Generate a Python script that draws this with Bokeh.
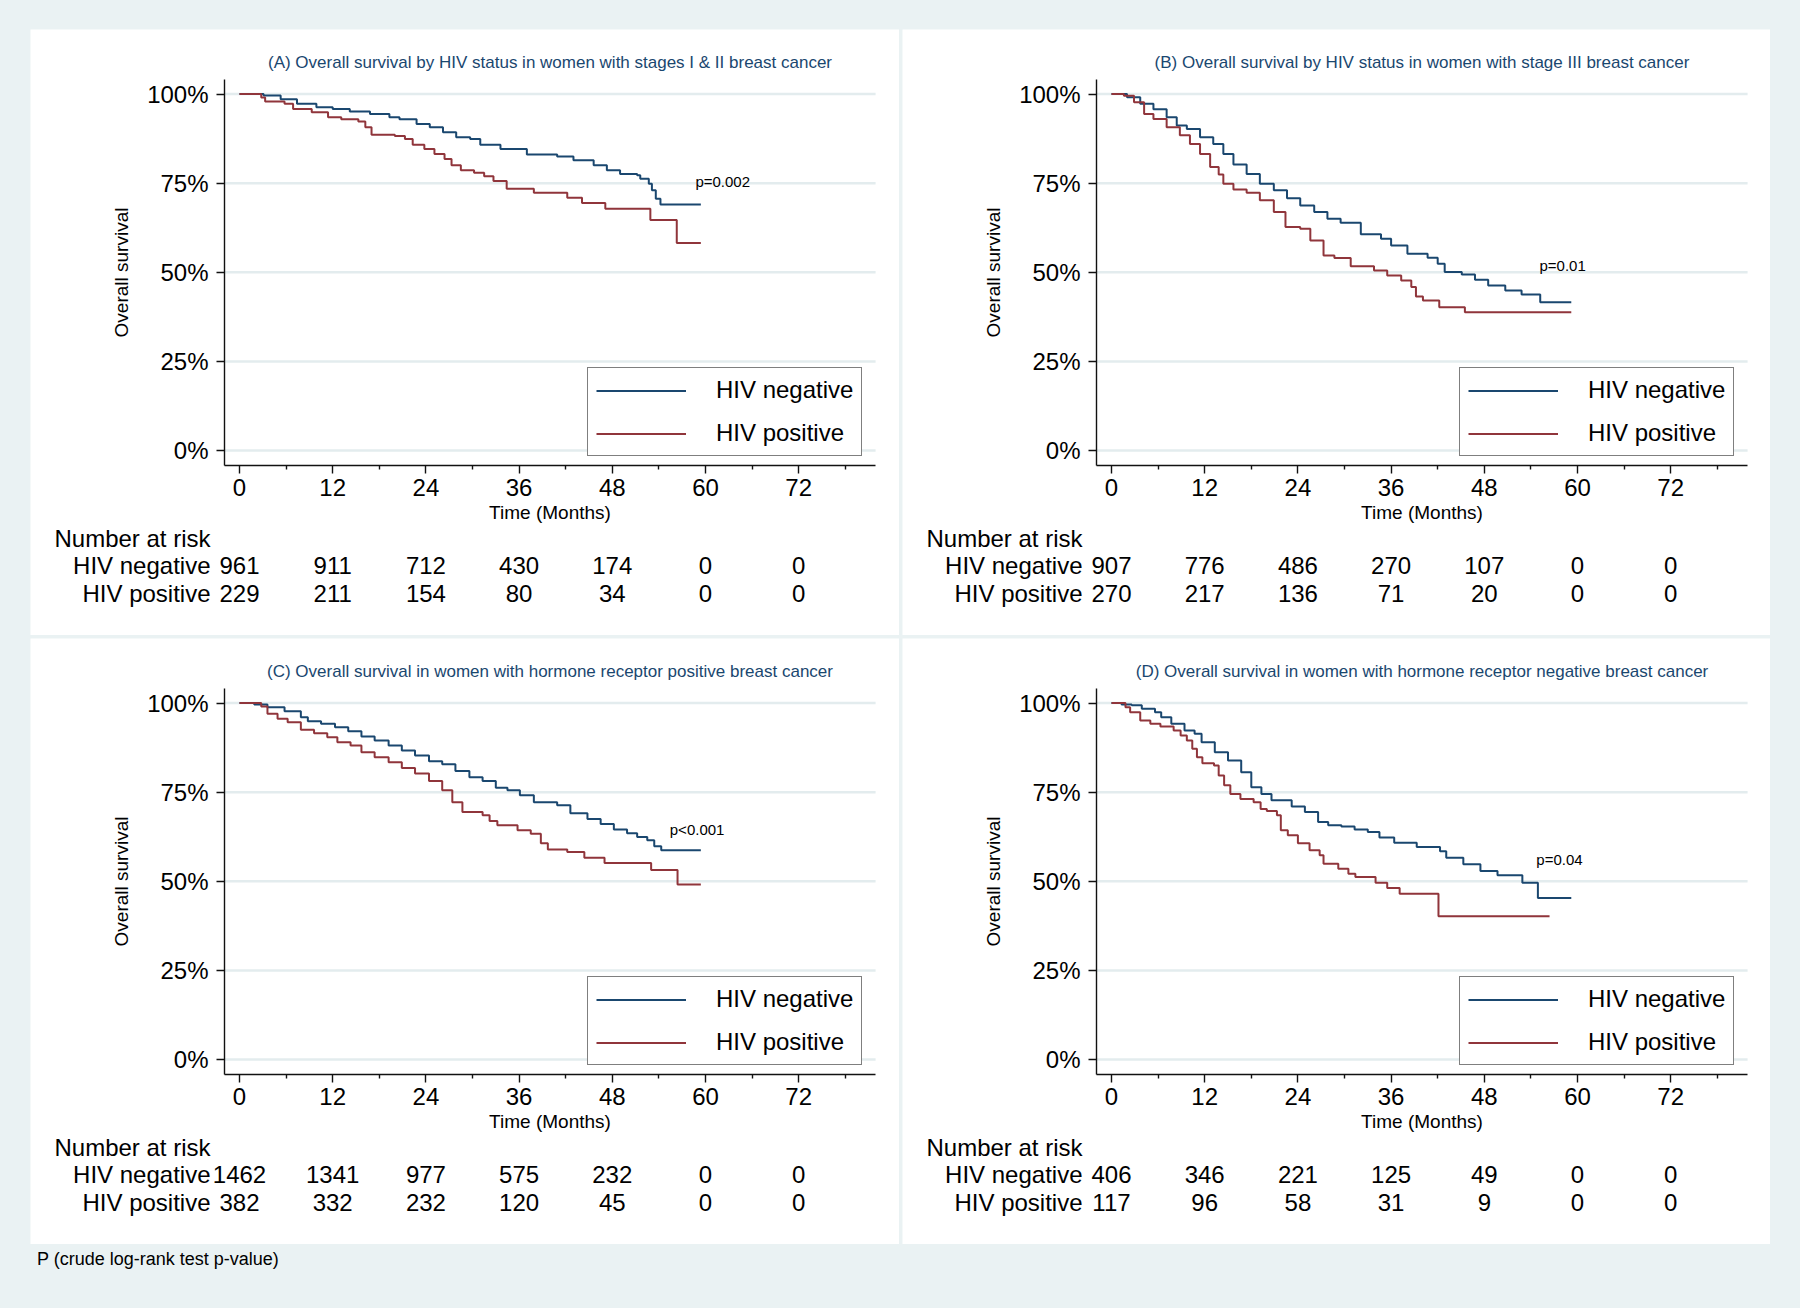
from bokeh.plotting import figure
from bokeh.models import (Range1d, FixedTicker, Label, LabelSet, ColumnDataSource,
                          Legend, LegendItem, Spacer, Div)
from bokeh.layouts import row, column
from bokeh.core.properties import value
from bokeh.embed import file_html
from bokeh.resources import INLINE

# ---------------- data ----------------
x_ticks = [0, 12, 24, 36, 48, 60, 72]
x_minor_ticks = [6, 18, 30, 42, 54, 66, 78]
y_ticks = [0, 25, 50, 75, 100]
y_tick_labels = ["0%", "25%", "50%", "75%", "100%"]
risk_times = [0, 12, 24, 36, 48, 60, 72]
group_names = ["HIV negative", "HIV positive"]
risk_header = "Number at risk"

titles = [
    "(A) Overall survival by HIV status in women with stages I & II breast cancer",
    "(B) Overall survival by HIV status in women with stage III breast cancer",
    "(C) Overall survival in women with hormone receptor positive breast cancer",
    "(D) Overall survival in women with hormone receptor negative breast cancer",
]
p_texts = ["p=0.002", "p=0.01", "p<0.001", "p=0.04"]

# Panel A
A_neg_t = [0, 3.1, 5.3, 7.4, 9.9, 12.0, 14.2, 16.8, 19.3, 20.6, 22.8, 24.5, 26.2, 27.9, 29.7, 31.0,
           33.6, 37.0, 40.9, 43.0, 45.6, 47.3, 49.0, 51.2, 51.6, 52.7, 53.1, 53.6, 54.2, 59.4]
A_neg_s = [100, 99.6, 98.5, 97.3, 96.3, 95.8, 95.1, 94.4, 93.5, 92.9, 91.6, 90.7, 89.3, 87.9, 87.4, 85.8,
           84.6, 83.0, 82.5, 81.4, 80.0, 78.6, 77.6, 77.2, 76.2, 74.8, 73.0, 70.6, 69.0, 69.0]
A_pos_t = [0, 2.8, 3.3, 5.8, 6.9, 9.3, 11.4, 13.1, 15.3, 16.2, 17.0, 20.0, 21.3, 22.3, 23.8, 25.1,
           26.4, 27.3, 28.5, 30.2, 31.5, 32.7, 34.4, 37.9, 42.2, 44.1, 47.1, 52.9, 56.3, 59.4]
A_pos_s = [100, 99.0, 97.9, 97.3, 95.8, 94.9, 93.5, 92.9, 92.3, 90.7, 88.6, 88.2, 87.4, 85.8, 84.6, 83.2,
           81.8, 80.0, 78.6, 77.9, 76.9, 75.6, 73.4, 72.3, 70.9, 69.4, 67.8, 64.7, 58.2, 58.2]
A_risk_neg = [961, 911, 712, 430, 174, 0, 0]
A_risk_pos = [229, 211, 154, 80, 34, 0, 0]

# Panel B
B_neg_t = [0, 2.0, 3.7, 5.4, 7.1, 8.4, 9.7, 11.4, 13.1, 14.4, 15.7, 17.4, 19.1, 20.9, 22.6, 24.3,
           26.1, 27.8, 29.5, 32.1, 34.7, 36.0, 38.1, 40.7, 42.0, 42.9, 45.1, 46.8, 48.5, 50.7,
           52.8, 55.2, 59.2]
B_neg_s = [100, 99.1, 97.3, 95.7, 93.5, 91.2, 90.2, 87.9, 86.0, 83.2, 80.2, 77.6, 74.8, 73.0, 70.8, 68.7,
           66.9, 65.0, 63.9, 60.7, 59.4, 57.5, 55.2, 54.1, 52.4, 50.1, 49.4, 47.9, 46.3, 44.9,
           43.8, 41.6, 41.6]
B_pos_t = [0, 1.6, 2.9, 4.2, 5.4, 7.1, 8.8, 10.1, 11.4, 12.7, 13.8, 14.4, 15.7, 17.4, 19.1, 20.9,
           22.4, 24.3, 25.6, 27.3, 28.7, 30.8, 33.8, 35.5, 37.3, 38.6, 39.2, 40.1, 42.2, 45.5, 59.2]
B_pos_s = [100, 99.5, 97.7, 94.4, 93.0, 90.7, 88.4, 86.0, 83.2, 79.5, 77.4, 74.8, 73.2, 72.3, 70.2, 66.9,
           62.7, 62.2, 58.9, 54.7, 54.0, 51.7, 50.5, 49.1, 47.7, 45.9, 43.2, 42.1, 40.2, 38.8, 38.8]
B_risk_neg = [907, 776, 486, 270, 107, 0, 0]
B_risk_pos = [270, 217, 136, 71, 20, 0, 0]

# Panel C
C_neg_t = [0, 1.9, 3.6, 5.8, 7.9, 8.8, 10.5, 12.3, 14.0, 15.7, 17.4, 19.2, 20.9, 22.6, 24.4, 26.1,
           27.8, 29.6, 31.3, 33.0, 34.5, 36.1, 37.9, 40.9, 42.6, 44.8, 46.5, 48.2, 49.9, 51.2,
           52.5, 53.4, 54.3, 59.4]
C_neg_s = [100, 99.6, 98.8, 97.7, 96.0, 94.9, 94.2, 93.2, 92.1, 90.6, 89.5, 88.1, 86.7, 85.3, 83.7, 82.8,
           80.9, 79.2, 78.1, 76.2, 75.5, 74.1, 72.2, 71.3, 69.1, 67.5, 66.1, 64.5, 63.5, 62.4,
           61.5, 59.8, 58.7, 58.7]
C_pos_t = [0, 2.8, 3.6, 4.9, 6.2, 7.9, 9.6, 11.3, 12.6, 14.3, 15.7, 17.4, 19.2, 20.9, 22.6, 24.4,
           26.1, 27.4, 28.7, 31.3, 32.2, 33.2, 35.8, 37.5, 38.8, 39.7, 42.2, 44.4, 47.0, 53.0, 56.4, 59.4]
C_pos_s = [100, 99.0, 97.0, 95.6, 94.6, 92.5, 91.5, 90.4, 89.0, 88.1, 86.2, 84.8, 83.4, 81.8, 80.2, 78.1,
           75.5, 72.2, 69.4, 68.5, 66.9, 65.7, 64.3, 63.3, 60.7, 58.9, 58.2, 56.6, 55.1, 53.2, 49.1, 49.1]
C_risk_neg = [1462, 1341, 977, 575, 232, 0, 0]
C_risk_pos = [382, 332, 232, 120, 45, 0, 0]

# Panel D
D_neg_t = [0, 1.3, 2.6, 3.9, 5.6, 6.4, 7.7, 9.4, 10.7, 11.6, 13.3, 15.0, 16.7, 18.0, 19.3, 20.6,
           23.2, 24.9, 26.6, 27.9, 29.6, 31.3, 33.0, 34.5, 36.4, 39.3, 42.3, 43.1, 45.3, 47.5,
           49.7, 52.9, 54.9, 59.2]
D_neg_s = [100, 99.6, 99.4, 98.4, 97.4, 96.0, 94.2, 92.3, 91.4, 89.0, 86.2, 83.9, 80.6, 76.4, 74.5, 72.7,
           71.0, 69.4, 66.6, 65.7, 65.4, 64.5, 63.8, 62.3, 60.8, 59.6, 58.4, 56.6, 54.8, 52.9,
           51.7, 49.6, 45.3, 45.3]
D_pos_t = [0, 1.8, 2.4, 3.7, 5.0, 6.3, 8.0, 8.9, 9.7, 10.4, 11.0, 11.7, 13.2, 13.8, 14.5, 15.3,
           16.6, 18.3, 19.2, 20.0, 21.3, 21.8, 22.7, 24.0, 25.5, 26.8, 27.3, 29.2, 30.5, 31.4,
           34.0, 35.5, 37.1, 42.1, 56.4]
D_pos_s = [100, 98.8, 97.4, 95.1, 94.2, 93.4, 92.3, 90.9, 89.5, 87.2, 84.8, 83.1, 82.5, 79.7, 76.9, 74.5,
           73.1, 72.2, 70.3, 69.7, 68.5, 64.3, 62.9, 60.7, 58.7, 57.3, 54.9, 53.5, 52.1, 51.2,
           49.6, 48.1, 46.5, 40.2, 40.2]
D_risk_neg = [406, 346, 221, 125, 49, 0, 0]
D_risk_pos = [117, 96, 58, 31, 9, 0, 0]

# ---------------- style / geometry ----------------
BG = "#eaf2f3"
GRID = "#e3ecee"
NAVY = "#1a476f"
MAROON = "#90353b"
FONT = "Liberation Sans"
PANEL_H = 606
PX_PER_MONTH = 7.7667
PX_PER_PCT = 3.566
ZERO_X_PX = 209.0        # panel x of t = 0
HUNDRED_Y_PX = 64.5      # panel y (from top) of 100 %
PLOT_X = (-1.93, 81.9)   # extent of the survival plot area (months)
PLOT_Y = (-4.21, 104.07) # extent of the survival plot area (%)
RISK_X_LABEL = 180       # right edge of the risk-table row names (px)
RISK_ROWS = [97.4, 70.5, 42.5]   # px above panel bottom: header / row 1 / row 2


def make_panel(width, idx, neg_t, neg_s, pos_t, pos_s, risk_neg, risk_pos, ppos):
    x_rng = Range1d(-ZERO_X_PX / PX_PER_MONTH, (width - ZERO_X_PX) / PX_PER_MONTH)
    y_rng = Range1d(100 - (PANEL_H - HUNDRED_Y_PX) / PX_PER_PCT, 100 + HUNDRED_Y_PX / PX_PER_PCT)
    p = figure(width=width, height=PANEL_H, x_range=x_rng, y_range=y_rng,
               output_backend="svg", toolbar_location=None,
               min_border=0, min_border_left=0, min_border_right=0,
               min_border_top=0, min_border_bottom=0,
               outline_line_color=None, background_fill_color="white",
               border_fill_color="white")
    p.grid.visible = False

    # horizontal grid lines across the plot area only
    p.segment(x0=[PLOT_X[0]] * len(y_ticks), x1=[PLOT_X[1]] * len(y_ticks),
              y0=y_ticks, y1=y_ticks, line_color=GRID, line_width=2.5)

    for ax in (p.xaxis[0], p.yaxis[0]):
        ax.axis_line_color = "#111111"
        ax.axis_line_width = 1.4
        ax.major_tick_line_color = "#111111"
        ax.major_tick_line_width = 1.4
        ax.minor_tick_line_color = "#111111"
        ax.minor_tick_line_width = 1.4
        ax.major_tick_in = 0
        ax.major_tick_out = 8
        ax.major_label_text_font = FONT
        ax.major_label_text_font_size = "24px"
        ax.major_label_text_color = "black"
        ax.axis_label_text_font = FONT
        ax.axis_label_text_font_style = "normal"
        ax.axis_label_text_color = "black"

    xa = p.xaxis[0]
    xa.fixed_location = PLOT_Y[0]
    xa.bounds = PLOT_X
    xa.ticker = FixedTicker(ticks=x_ticks, minor_ticks=x_minor_ticks)
    xa.minor_tick_in = 0
    xa.minor_tick_out = 4
    xa.major_label_standoff = 5
    xa.axis_label = "Time (Months)"
    xa.axis_label_text_font_size = "19px"
    xa.axis_label_standoff = 3

    ya = p.yaxis[0]
    ya.fixed_location = PLOT_X[0]
    ya.bounds = PLOT_Y
    ya.ticker = FixedTicker(ticks=y_ticks)
    ya.major_label_overrides = dict(zip(y_ticks, y_tick_labels))
    ya.minor_tick_out = 0
    ya.major_label_standoff = 8
    ya.axis_label = "Overall survival"
    ya.axis_label_text_font_size = "19px"
    ya.axis_label_standoff = 12

    r_neg = p.step(neg_t, neg_s, mode="after", line_color=NAVY, line_width=2)
    r_pos = p.step(pos_t, pos_s, mode="after", line_color=MAROON, line_width=2)

    leg = Legend(items=[LegendItem(label=group_names[0], renderers=[r_neg]),
                        LegendItem(label=group_names[1], renderers=[r_pos])],
                 location=(557, 179), border_line_color="black", border_line_width=1.5,
                 background_fill_color="white", background_fill_alpha=1.0,
                 glyph_width=90, glyph_height=27, label_height=27, label_standoff=30,
                 padding=8, spacing=15, margin=0,
                 label_text_font=FONT, label_text_font_size="24px", label_text_color="black")
    p.add_layout(leg)

    # title centred over the plot area
    p.add_layout(Label(x=194 + 651 / 2, y=PANEL_H - 33.4, x_units="screen", y_units="screen",
                       text=titles[idx], text_align="center", text_baseline="middle",
                       text_font=FONT, text_font_size="17px", text_color=NAVY))
    # log-rank p value
    p.add_layout(Label(x=ppos[0], y=ppos[1], text=p_texts[idx], text_align="left",
                       text_baseline="middle", text_font=FONT, text_font_size="15px",
                       text_color="black"))

    # number-at-risk table
    for txt, yy in zip([risk_header] + group_names, RISK_ROWS):
        p.add_layout(Label(x=RISK_X_LABEL, y=yy, x_units="screen", y_units="screen",
                           text=txt, text_align="right", text_baseline="middle",
                           text_font=FONT, text_font_size="24px", text_color="black"))
    for counts, yy in ((risk_neg, RISK_ROWS[1]), (risk_pos, RISK_ROWS[2])):
        src = ColumnDataSource(dict(t=risk_times, n=[str(c) for c in counts]))
        p.add_layout(LabelSet(x="t", y=yy, y_units="screen", text="n", source=src,
                              text_align="center", text_baseline="middle",
                              text_font=value(FONT), text_font_size=value("24px"),
                              text_color="black"))
    return p


pA = make_panel(869, 0, A_neg_t, A_neg_s, A_pos_t, A_pos_s, A_risk_neg, A_risk_pos, (58.7, 75.5))
pB = make_panel(868, 1, B_neg_t, B_neg_s, B_pos_t, B_pos_s, B_risk_neg, B_risk_pos, (55.1, 51.9))
pC = make_panel(869, 2, C_neg_t, C_neg_s, C_pos_t, C_pos_s, C_risk_neg, C_risk_pos, (55.4, 64.5))
pD = make_panel(868, 3, D_neg_t, D_neg_s, D_pos_t, D_pos_s, D_risk_neg, D_risk_pos, (54.7, 56.2))

TOTAL_W = 1800
LEFT_M, GAP, TOP_M = 30, 3, 29
RIGHT_M = TOTAL_W - LEFT_M - 869 - GAP - 868


def sp(w, h):
    return Spacer(width=w, height=h, styles={"background-color": BG})


row1 = row(sp(LEFT_M, PANEL_H), pA, sp(GAP, PANEL_H), pB, sp(RIGHT_M, PANEL_H), spacing=0)
row2 = row(sp(LEFT_M, PANEL_H), pC, sp(GAP, PANEL_H), pD, sp(RIGHT_M, PANEL_H), spacing=0)
FOOT_H = 1309 - TOP_M - 2 * PANEL_H - GAP - 1
footer = Div(text='<div style="padding:3px 0 0 37px;">P (crude log-rank test p-value)</div>',
             width=TOTAL_W, height=FOOT_H, margin=0,
             styles={"background-color": BG, "font-family": FONT, "font-size": "18px",
                     "color": "black"})
layout = column(sp(TOTAL_W, TOP_M), row1, sp(TOTAL_W, GAP), row2, footer, spacing=0,
                styles={"background-color": BG})

open("out.html", "w").write(file_html(layout, INLINE))
